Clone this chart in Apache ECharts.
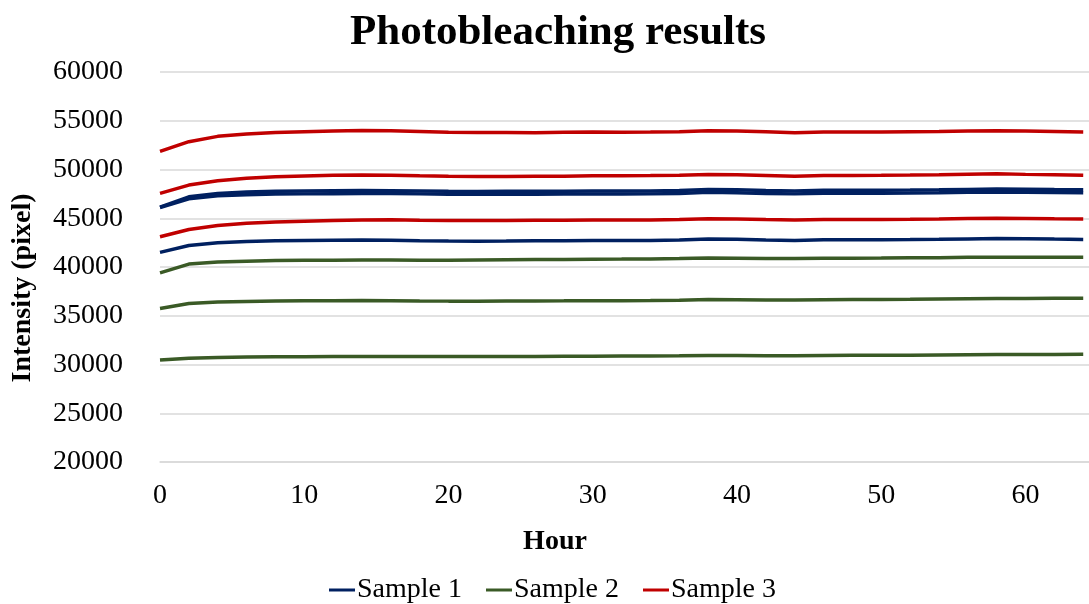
<!DOCTYPE html>
<html>
<head>
<meta charset="utf-8">
<script src="https://cdn.jsdelivr.net/npm/echarts@6/dist/echarts.min.js"></script>
<style>
  html, body { margin: 0; padding: 0; background: #fff; }
  #main { width: 1089px; height: 604px; }
</style>
</head>
<body>
<div id="main"></div>
<script>
// hours sampled every 2 h
const hours = [0, 2, 4, 6, 8, 10, 12, 14, 16, 18, 20, 22, 24, 26, 28, 30, 32, 34, 36, 38, 40, 42, 44, 46, 48, 50, 52, 54, 56, 58, 60, 62, 64];

// Sample 1 (three wells)
const s1a = [46150, 47200, 47550, 47700, 47780, 47800, 47820, 47840, 47830, 47800, 47760, 47750, 47760, 47770, 47780, 47800, 47790, 47800, 47850, 47960, 47920, 47850, 47800, 47870, 47870, 47870, 47890, 47920, 47960, 47990, 47970, 47940, 47920];
const s1b = [46100, 47000, 47300, 47420, 47480, 47500, 47520, 47540, 47530, 47500, 47460, 47450, 47460, 47470, 47480, 47500, 47490, 47500, 47550, 47660, 47620, 47550, 47500, 47570, 47570, 47570, 47590, 47620, 47660, 47690, 47670, 47640, 47620];
const s1c = [41500, 42200, 42480, 42620, 42700, 42720, 42740, 42760, 42750, 42700, 42660, 42650, 42660, 42680, 42700, 42720, 42710, 42730, 42780, 42880, 42850, 42780, 42720, 42790, 42790, 42790, 42810, 42840, 42880, 42920, 42900, 42860, 42830];

// Sample 2
const s2a = [39400, 40300, 40520, 40600, 40660, 40680, 40700, 40720, 40720, 40700, 40700, 40720, 40740, 40760, 40780, 40800, 40810, 40830, 40860, 40930, 40910, 40880, 40860, 40900, 40910, 40920, 40940, 40960, 40990, 41010, 41010, 41000, 40990];
const s2b = [35750, 36250, 36400, 36470, 36520, 36530, 36540, 36560, 36550, 36520, 36500, 36500, 36510, 36520, 36530, 36550, 36550, 36560, 36590, 36660, 36640, 36620, 36610, 36650, 36660, 36670, 36690, 36720, 36750, 36780, 36780, 36790, 36790];
const s2c = [30450, 30650, 30720, 30770, 30790, 30800, 30810, 30820, 30820, 30810, 30810, 30810, 30820, 30830, 30840, 30850, 30860, 30870, 30890, 30930, 30920, 30910, 30910, 30930, 30940, 30950, 30960, 30980, 31000, 31020, 31020, 31030, 31040];

// Sample 3
const s3a = [51850, 52850, 53400, 53650, 53800, 53880, 53950, 54000, 53980, 53900, 53820, 53800, 53800, 53780, 53820, 53850, 53830, 53840, 53870, 53980, 53950, 53870, 53780, 53850, 53850, 53840, 53870, 53900, 53950, 53980, 53950, 53900, 53850];
const s3b = [47550, 48400, 48850, 49100, 49250, 49330, 49400, 49430, 49420, 49350, 49300, 49280, 49280, 49300, 49320, 49350, 49350, 49380, 49420, 49480, 49460, 49380, 49300, 49380, 49380, 49400, 49430, 49470, 49520, 49560, 49500, 49450, 49400];
const s3c = [43100, 43850, 44250, 44480, 44620, 44700, 44760, 44820, 44840, 44800, 44780, 44770, 44780, 44790, 44800, 44820, 44820, 44830, 44870, 44960, 44930, 44870, 44820, 44880, 44880, 44880, 44900, 44930, 44970, 45000, 44980, 44940, 44920];

const sampleNames = ['Sample 1', 'Sample 2', 'Sample 3'];
const sampleColors = ['#002060', '#3a5a26', '#c00000'];
const sampleData = [[s1a, s1b, s1c], [s2a, s2b, s2c], [s3a, s3b, s3c]];

const font = '"Liberation Serif", "Times New Roman", serif';

// one series per well, wells of a sample share the legend name
let series = [];
for (let i = 0; i < sampleNames.length; i++) {
  for (let j = 0; j < sampleData[i].length; j++) {
    series.push({
      name: sampleNames[i],
      type: 'line',
      symbol: 'none',
      color: sampleColors[i],
      lineStyle: { width: 3.5, color: sampleColors[i] },
      data: hours.map((h, k) => [h, sampleData[i][j][k]])
    });
  }
}

const chart = echarts.init(document.getElementById('main'));
chart.setOption({
  backgroundColor: '#fff',
  animation: false,
  textStyle: { fontFamily: font, color: '#000' },
  title: {
    text: 'Photobleaching results',
    left: 553,
    top: 6,
    textAlign: 'center',
    textStyle: { fontFamily: font, fontSize: 43, fontWeight: 'bold', color: '#000' }
  },
  grid: { left: 160, right: 0, top: 72, bottom: 142, containLabel: false },
  xAxis: {
    type: 'value',
    min: 0,
    max: 64.4,
    interval: 10,
    axisLine: { show: true, lineStyle: { color: '#d9d9d9', width: 1.5 } },
    axisTick: { show: false },
    splitLine: { show: false },
    axisLabel: { fontFamily: font, fontSize: 28, color: '#000', margin: 20, showMaxLabel: false }
  },
  yAxis: {
    type: 'value',
    min: 20000,
    max: 60000,
    interval: 5000,
    axisLine: { show: false },
    axisTick: { show: false },
    splitLine: { lineStyle: { color: '#d9d9d9', width: 1.5 } },
    axisLabel: {
      fontFamily: font, fontSize: 28, color: '#000', margin: 37,
      formatter: v => String(v)
    }
  },
  legend: {
    data: sampleNames,
    top: 571,
    left: 324,
    icon: 'rect',
    itemWidth: 26,
    itemHeight: 3,
    itemGap: 24,
    textStyle: { fontFamily: font, fontSize: 28, color: '#000', padding: [0, 0, 0, -3] }
  },
  graphic: [
    {
      type: 'text',
      x: 23,
      y: 288,
      rotation: Math.PI / 2,
      style: {
        text: 'Intensity (pixel)',
        font: 'bold 28px ' + font,
        fill: '#000',
        textAlign: 'center',
        textVerticalAlign: 'middle'
      }
    },
    {
      type: 'text',
      x: 555,
      y: 542,
      style: {
        text: 'Hour',
        font: 'bold 28px ' + font,
        fill: '#000',
        textAlign: 'center',
        textVerticalAlign: 'middle'
      }
    }
  ],
  series: series
});
</script>
</body>
</html>
